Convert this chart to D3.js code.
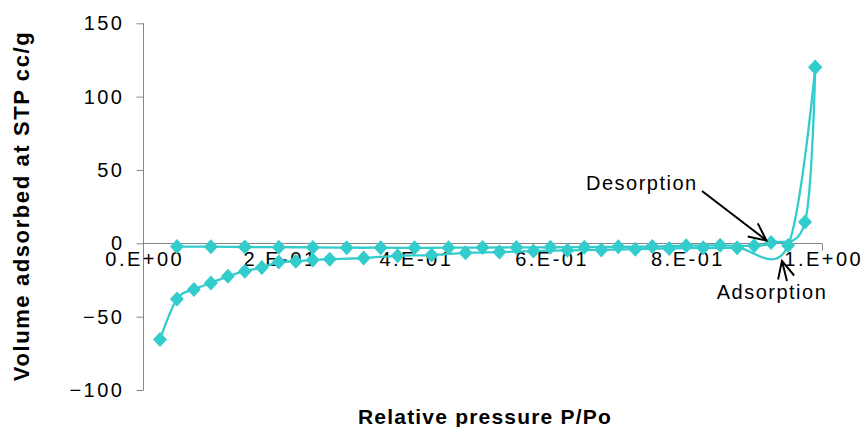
<!DOCTYPE html>
<html><head><meta charset="utf-8">
<script src="https://cdn.jsdelivr.net/npm/d3@7/dist/d3.min.js"></script>
<style>
html,body{margin:0;padding:0;background:#fff;}
svg{display:block;font-family:"Liberation Sans",Arial,sans-serif;}
</style></head>
<body>
<svg id="chart" width="865" height="427"></svg>
<script>
// ---- data ----
const adsorptionP = [0.025,0.05,0.075,0.1,0.125,0.15,0.175,0.2,0.225,0.25,0.275,0.325,0.375,0.425,0.475,0.525,0.575,0.625,0.675,0.725,0.775,0.825,0.875,0.95,0.99];
const adsorptionV = [-65.5,-38,-31.5,-27,-22.5,-19,-16.5,-12.8,-12.3,-11.3,-10.8,-10,-8.5,-8,-6.5,-6,-5.3,-4.8,-4.5,-4,-3.5,-3.1,-3,-1.5,120];
const desorptionP = [0.05,0.1,0.15,0.2,0.25,0.3,0.35,0.4,0.45,0.5,0.55,0.6,0.65,0.7,0.75,0.8,0.85,0.9,0.925,0.975,0.99];
const desorptionV = [-2.2,-2.3,-2.5,-2.6,-2.8,-3,-3,-3.1,-3,-2.9,-2.8,-2.7,-2.6,-2.4,-2.2,-1.6,-1.4,-1.6,0.5,14.5,120];
const xTickValues = [0,0.2,0.4,0.6,0.8,1.0];
const xTickLabels = ["0.E+00","2.E-01","4.E-01","6.E-01","8.E-01","1.E+00"];
const yTickValues = [-100,-50,0,50,100,150];
const xTitle = "Relative pressure P/Po";
const yTitle = "Volume adsorbed at STP cc/g";

const svg = d3.select("#chart");
const x = d3.scaleLinear().domain([0,1]).range([143,822]);
const y = d3.scaleLinear().domain([-100,150]).range([390,23.3]);
const axisColor = "#868686";
const seriesColor = "#33CCCC";

// y axis
const yAxis = d3.axisLeft(y).tickValues(yTickValues).tickSize(7).tickPadding(14).tickFormat(d3.format("d"));
const gy = svg.append("g").attr("transform","translate(143,0)").call(yAxis);
gy.select(".domain").remove();
svg.append("line").attr("x1",143.5).attr("x2",143.5).attr("y1",y(150)).attr("y2",y(-100)).attr("stroke",axisColor);
gy.selectAll(".tick line").attr("stroke",axisColor).attr("transform","translate(0.5,0)");
gy.selectAll(".tick text").attr("font-size",20).attr("fill","#000").attr("letter-spacing","2.5px")
  .attr("font-family","'Liberation Sans',Arial,sans-serif").attr("dx","2.5");

// x axis at y=0
const xAxis = d3.axisBottom(x).tickValues(xTickValues).tickSize(7).tickPadding(1)
  .tickFormat((d,i)=>xTickLabels[i]);
const gx = svg.append("g").attr("transform","translate(0,"+Math.round(y(0))+".5)").call(xAxis);
gx.select(".domain").remove();
gx.append("line").attr("x1",x(0)).attr("x2",x(1)).attr("stroke",axisColor);
gx.selectAll(".tick line").attr("stroke",axisColor);
gx.selectAll(".tick text").attr("font-size",20).attr("fill","#000").attr("letter-spacing","2.5px")
  .attr("font-family","'Liberation Sans',Arial,sans-serif").attr("dx","1.25");

// series
const line = d3.line().x(d=>x(d[0])).y(d=>y(d[1])).curve(d3.curveCardinal.tension(0));
const ads = adsorptionP.map((p,i)=>[p,adsorptionV[i]]);
const des = desorptionP.map((p,i)=>[p,desorptionV[i]]);
[ads,des].forEach(s=>{
  svg.append("path").attr("d",line(s)).attr("fill","none").attr("stroke",seriesColor).attr("stroke-width",2.3);
});
const diamond = "M0,-7.5L7,0L0,7.5L-7,0Z";
[ads,des].forEach(s=>{
  svg.append("g").selectAll("path").data(s).join("path")
    .attr("d",diamond).attr("transform",d=>"translate("+x(d[0])+","+y(d[1])+")")
    .attr("fill",seriesColor);
});

// annotations
function arrow(x1,y1,x2,y2){
  const g = svg.append("g").attr("stroke","#000").attr("stroke-width",2).attr("fill","none");
  g.append("line").attr("x1",x1).attr("y1",y1).attr("x2",x2).attr("y2",y2);
  const a = Math.atan2(y2-y1,x2-x1), L = 19, w = 0.45;
  g.append("path").attr("d","M"+(x2-L*Math.cos(a-w))+","+(y2-L*Math.sin(a-w))+"L"+x2+","+y2+"L"+(x2-L*Math.cos(a+w))+","+(y2-L*Math.sin(a+w)));
}
svg.append("text").attr("x",586).attr("y",190).attr("font-size",20).attr("letter-spacing","1.5px").text("Desorption");
arrow(702,191,x(0.918),y(2));
svg.append("text").attr("x",772).attr("y",299).attr("text-anchor","middle").attr("font-size",20).attr("letter-spacing","1.5px").text("Adsorption");
arrow(787,281,x(0.941),y(-12));

// titles
svg.append("text").attr("x",485).attr("y",424).attr("text-anchor","middle").attr("font-size",21)
  .attr("font-weight","bold").attr("letter-spacing","1.2px").text(xTitle);
svg.append("text").attr("transform","translate(29,206) rotate(-90)").attr("text-anchor","middle").attr("font-size",22)
  .attr("font-weight","bold").attr("letter-spacing","1.6px").text(yTitle);
</script>
</body></html>
